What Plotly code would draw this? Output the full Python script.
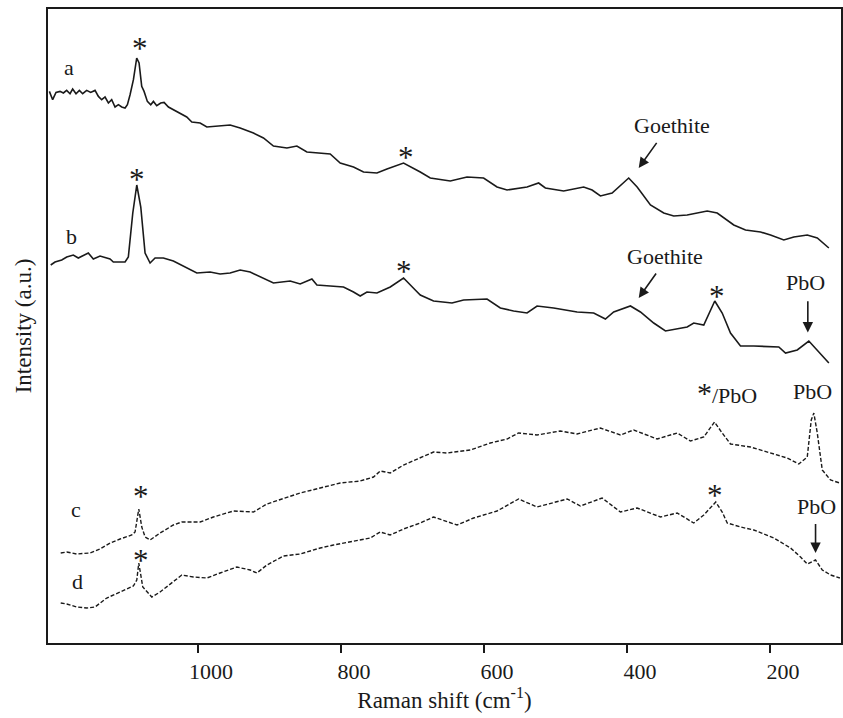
import plotly.graph_objects as go

# ---- Spectrum a (solid) ----
a_x = [1208.1, 1203.5, 1198.8, 1193.2, 1188.5, 1183.9, 1179.2, 1175.5, 1170.8, 1166.1, 1161.5, 1155.9,
       1150.3, 1144.2, 1139.5, 1134.9, 1130.2, 1125.5, 1120.9, 1116.2, 1111.5, 1106.9, 1102.2, 1098.9,
       1095.2, 1090.5, 1085.9, 1082.6, 1078.9, 1075.6, 1071.0, 1066.3, 1062.5, 1057.9, 1052.3, 1047.6,
       1041.5, 1034.5, 1025.2, 1015.9, 1008.8, 997.2, 987.8, 973.8, 955.2, 941.2, 922.6, 908.6, 894.6,
       875.8, 861.8, 847.8, 829.2, 815.2, 801.2, 782.6, 768.6, 749.8, 735.8, 712.6, 689.2, 675.2, 647.2,
       623.8, 600.6, 581.8, 567.8, 539.8, 523.6, 514.2, 488.6, 460.6, 448.8, 437.2, 420.8, 409.2, 397.6,
       385.8, 367.2, 348.6, 334.6, 315.8, 287.8, 273.8, 250.6, 234.2, 213.2, 199.2, 180.6, 166.6, 147.8,
       133.8, 117.6]
a_y = [551.6, 543.3, 550.6, 551.6, 550, 552.6, 549.3, 554, 549.3, 552.6, 549.3, 552.6,
       550.6, 552.6, 546.6, 543.3, 546, 540, 543.3, 536, 538.3, 536, 535, 538.3,
       548.3, 563.3, 585, 580, 556.6, 551.6, 541.6, 538.3, 541.6, 537.3, 540, 540.6,
       536, 533.3, 530, 526, 521, 520, 516, 517, 518, 515, 510, 505, 497,
       495, 497, 491, 490, 489, 480, 476, 471, 470, 474, 480, 471, 465, 462,
       466, 465, 456, 453, 456, 460, 455, 452, 456, 453, 447, 450, 458, 465,
       456, 438, 430, 427, 428, 432, 430, 418, 413, 411, 408, 403, 406, 408,
       405, 395]

# ---- Spectrum b (solid) ----
b_x = [1206.2, 1200.2, 1190.8, 1183.8, 1174.6, 1167.6, 1153.6, 1146.6, 1137.2, 1123.2, 1118.6, 1102.2,
       1097.6, 1091.4, 1085.8, 1080.2, 1074.2, 1067.2, 1060.2, 1048.6, 1034.6, 1015.8, 1001.8, 983.2,
       969.2, 955.2, 941.2, 927.2, 913.2, 894.6, 871.2, 857.2, 840.8, 833.8, 815.2, 796.6, 782.6, 773.2,
       763.8, 749.8, 731.2, 712.6, 696.2, 689.2, 670.6, 644.8, 628.6, 595.8, 577.2, 558.6, 539.8, 525.8,
       502.6, 469.8, 446.6, 430.2, 418.6, 395.2, 381.2, 362.6, 346.2, 329.8, 315.8, 306.6, 292.6, 277.2,
       266.8, 255.2, 241.2, 222.6, 187.6, 178.2, 161.8, 145.6, 133.8, 117.6]
b_y = [378, 381, 383, 386, 388, 385, 390, 384, 387, 384, 381, 381,
       386, 430, 458, 436, 390, 380, 385, 385, 382, 375, 370, 371,
       369, 370, 373, 371, 366, 360, 362, 359, 364, 358, 357, 356, 351, 347,
       351, 350, 356, 365, 353, 348, 342, 340, 343, 344, 335, 332, 330, 337,
       335, 331, 330, 324, 331, 337, 331, 320, 312, 314, 316, 320, 318, 342,
       330, 310, 297, 297, 296, 290, 293, 302, 293, 280]

# ---- Spectrum c (dashed) ----
c_x = [1192.2, 1183.8, 1169.8, 1151.2, 1137.2, 1123.2, 1109.2, 1092.8, 1088.2, 1083.0, 1078.8, 1074.2,
       1067.2, 1053.2, 1034.6, 1022.8, 997.2, 978.6, 950.6, 922.6, 903.8, 875.8, 857.2, 829.2, 801.2,
       773.2, 754.6, 745.2, 731.2, 712.6, 689.2, 670.6, 651.8, 619.2, 591.2, 567.8, 551.6, 525.8, 493.2,
       469.8, 437.2, 409.2, 390.6, 357.8, 329.8, 311.2, 292.6, 277.6, 266.8, 255.2, 227.2, 199.2, 175.8,
       159.6, 147.8, 142.2, 138.6, 133.8, 126.8, 115.2, 102.2]
c_y = [90, 91, 89, 90, 94, 100, 104, 108, 111, 134, 116, 106,
       103, 110, 118, 121, 121, 126, 132, 131, 139, 146, 150, 155, 160,
       162, 166, 172, 170, 178, 185, 191, 190, 193, 200, 204, 210, 208, 212,
       209, 215, 208, 213, 204, 210, 202, 206, 221, 210, 199, 196, 190, 185,
       179, 186, 223, 230, 210, 173, 163, 160]

# ---- Spectrum d (dashed) ----
d_x = [1192.2, 1183.8, 1169.8, 1155.8, 1144.2, 1127.8, 1109.2, 1090.6, 1085.8, 1083.0, 1077.4, 1064.8,
       1053.2, 1034.6, 1022.8, 1006.6, 987.8, 969.2, 945.8, 927.2, 917.8, 903.8, 880.6, 857.2, 829.2,
       810.6, 782.6, 759.2, 745.2, 731.2, 712.6, 689.2, 670.6, 637.8, 614.6, 581.8, 551.6, 525.8, 483.8,
       465.2, 434.8, 409.2, 385.8, 353.2, 329.8, 306.6, 292.6, 275.8, 266.8, 259.8, 241.2, 222.6, 194.6,
       171.2, 157.2, 147.8, 136.2, 126.8, 115.2, 102.2]
d_y = [40, 39, 36, 35, 36, 45, 51, 57, 63, 80, 56, 46,
       51, 61, 68, 66, 65, 70, 76, 73, 70, 78, 87, 89, 95,
       98, 102, 105, 111, 108, 114, 120, 126, 118, 125, 132, 144, 136, 144,
       137, 145, 131, 135, 126, 130, 120, 128, 141, 131, 120, 116, 113, 105,
       95, 86, 79, 83, 73, 68, 65]

x_ticks = [1000, 800, 600, 400, 200]

FONT = "Liberation Serif, Times New Roman, serif"
INK = "#1a1a1a"

fig = go.Figure()
for xs, ys, dash, w in [(a_x, a_y, "solid", 1.6), (b_x, b_y, "solid", 1.6),
                        (c_x, c_y, "4px,2px", 1.4), (d_x, d_y, "4px,2px", 1.4)]:
    fig.add_trace(go.Scatter(x=xs, y=ys, mode="lines",
                             line=dict(color=INK, width=w, dash=dash),
                             showlegend=False, hoverinfo="skip"))

# word labels: (x, y, text)
labels = [
    (1180.6, 575.3, "a"), (1177.8, 406.3, "b"), (1170.6, 134, "c"), (1169, 61.6, "d"),
    (336.4, 517.3, "Goethite"), (347.2, 386.6, "Goethite"),
    (150.2, 360.6, "PbO"), (140.8, 251.6, "PbO"), (135.2, 136.6, "PbO"),
    (259.8, 250.3, "<span style='font-size:30px'>*</span>/PbO"),
]
for x, y, t in labels:
    fig.add_annotation(x=x, y=y, xref="x", yref="y", text=t, showarrow=False,
                       font=dict(family=FONT, size=22, color=INK))

# peak asterisks: (x, y)
stars = [
    (1081.2, 594.3), (1085.4, 463.3), (708.8, 485.3), (711.6, 371.3),
    (273.8, 346.3), (1080.2, 147), (1080.2, 83), (276.2, 148),
]
for x, y in stars:
    fig.add_annotation(x=x, y=y, xref="x", yref="y", text="*", showarrow=False,
                       font=dict(family=FONT, size=31, color=INK))

# arrows: (tail x, tail y, head x, head y)
arrows = [
    (357.0, 501.6, 383.6, 475.0),
    (357.8, 371.0, 383.6, 345.0),
    (147.0, 343.3, 147.0, 310.6),
    (136.2, 120.6, 136.2, 90.0),
]
for tx, ty, hx, hy in arrows:
    fig.add_annotation(x=hx, y=hy, ax=tx, ay=ty, xref="x", yref="y", axref="x", ayref="y",
                       text="", showarrow=True, arrowhead=2, arrowsize=1.3, arrowwidth=1.6,
                       arrowcolor=INK, standoff=0, startstandoff=0)

fig.update_layout(
    width=843, height=718,
    margin=dict(l=48, r=2, t=9, b=75),
    paper_bgcolor="white", plot_bgcolor="white",
    font=dict(family=FONT, size=22, color=INK),
    xaxis=dict(range=[1210, 100.6], tickmode="array", tickvals=x_ticks,
               ticktext=[str(v) for v in x_ticks],
               ticks="outside", ticklen=8, tickwidth=1.6, tickcolor=INK,
               ticklabelshift=-13,
               showline=True, linecolor=INK, linewidth=2, mirror=True,
               showgrid=False, zeroline=False,
               tickfont=dict(family=FONT, size=22, color=INK),
               title=dict(text="Raman shift (cm<sup>-1</sup>)", standoff=4,
                          font=dict(family=FONT, size=23, color=INK)),
               automargin=False),
    yaxis=dict(range=[0, 634], showticklabels=False, ticks="",
               showline=True, linecolor=INK, linewidth=2, mirror=True,
               showgrid=False, zeroline=False,
               title=dict(text="Intensity (a.u.)", standoff=8,
                          font=dict(family=FONT, size=23, color=INK)),
               automargin=False),
)

fig.write_html("out.html")
